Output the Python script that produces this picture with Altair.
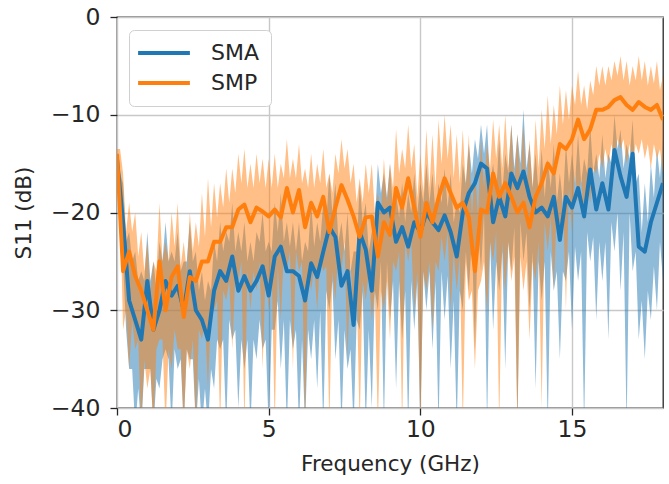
import altair as alt
import pandas as pd

# Frequency sweep (GHz): lines sampled every 0.2 GHz, bands every 0.1 GHz
freq_line = [round(0.2 * i, 1) for i in range(91)]
freq_band = [round(0.1 * i, 1) for i in range(181)]

sma_mean = [-14.5, -21, -29, -31, -33, -27, -32, -30, -27, -28.5,
            -27.5, -30, -26, -30, -31, -33, -28, -26, -27, -24.5,
            -28, -26.5, -28, -27, -25.5, -28.5, -24.5, -23.5, -26, -26,
            -26.5, -29, -25.2, -26.6, -24, -21.5, -22.5, -27.5, -26, -31.5,
            -22, -23.8, -28, -19, -20, -19.5, -23, -21.5, -23.5, -21,
            -22, -20, -21, -21.8, -20.3, -22, -24.5, -20, -18, -17,
            -15, -15.5, -21, -18.4, -20.4, -16, -17.5, -15.8, -18.4, -20,
            -19.5, -20.4, -18.4, -22.8, -18.4, -19.5, -17.5, -20.4, -15.6, -19.7,
            -17, -19.7, -13.6, -16.3, -18.4, -14, -23.5, -24, -21, -19,
            -17]
smp_mean = [-14, -26, -24, -26.5, -28, -30, -32, -25, -30, -26.6,
            -25.5, -30.7, -26.6, -27, -25, -25, -23, -23, -21.5, -21.5,
            -19.7, -19.2, -21, -19.5, -19.9, -20.4, -19.7, -20.5, -17.5, -20,
            -17.7, -21.5, -19, -20.4, -18.4, -22, -19.5, -17.2, -18.7, -20.4,
            -22.5, -20.5, -20.4, -24.5, -21, -22.3, -17.5, -19.5, -16.5, -19.5,
            -22.5, -19, -21, -18.5, -16.5, -18, -19.5, -19, -20.5, -26,
            -19.7, -20, -16, -18.4, -17, -18.4, -20, -19, -21.5, -18.4,
            -17, -15, -16, -13, -13.5, -12.5, -10.5, -12.5, -11.5, -9.5,
            -9.5, -9.2, -8.5, -8.2, -9, -9.5, -8.7, -9.2, -9.5, -9,
            -10.5]

# Band edges at 0.0, 0.2, ... 18.0 GHz
sma_upper_a = [-14, -17, -22, -24, -26, -22, -25, -23, -21, -24,
               -22, -25, -21, -24, -26, -27, -23, -21, -22, -19,
               -22, -21, -23, -22, -20, -23, -19, -18, -21, -21,
               -21, -23, -19, -21, -19, -16, -17, -21, -20, -24,
               -17, -19, -22, -15, -16, -15, -18, -17, -18, -16,
               -17, -15, -16, -17, -15.5, -16, -19, -15, -13, -12.5,
               -11, -11, -15, -12.5, -14, -11, -12, -9.5, -13, -14,
               -13.5, -14.5, -13, -16, -13, -14, -12, -14.5, -11, -14,
               -12, -14, -10, -11.5, -13, -10.5, -16, -17, -15, -13.5,
               -12.5]
# Band edges at 0.1, 0.3, ... 17.9 GHz
sma_upper_b = [-16, -23, -25, -27, -27, -27, -28, -25, -25, -25,
               -26, -25, -25, -28, -29, -28, -25, -24, -23, -24,
               -24, -25, -25, -23, -24, -24, -22, -23, -23.5, -24,
               -25, -24, -23.5, -23, -21, -20, -23, -24, -26, -24,
               -21, -24, -21, -18, -18.5, -20, -20.5, -21, -20, -20,
               -19, -19, -20, -19, -19.5, -21, -20, -17, -16, -14.5,
               -14, -17, -18, -18, -16, -15.5, -15, -15.5, -17.5, -18,
               -18.5, -17.5, -19, -19, -17, -17, -17, -16, -16, -16.5,
               -16.5, -15, -13.5, -15.5, -14.5, -17, -22, -21, -18.5, -16.5]
sma_lower_a = [-15.5, -25, -36, -42, -42, -36, -42, -38, -34, -42,
               -36, -42, -35, -42, -42, -42, -38, -34, -42, -33,
               -40, -36, -42, -35, -34, -42, -32, -36, -42, -34,
               -42, -42, -35, -38, -42, -30, -35, -42, -36, -42,
               -32, -42, -40, -30, -42, -31, -38, -33, -42, -32,
               -42, -30, -34, -42, -31, -36, -42, -30, -28, -34,
               -26, -42, -32, -28, -36, -26, -42, -25, -30, -38,
               -29, -42, -28, -35, -27, -32, -27, -42, -25, -31,
               -27, -33, -24, -28, -42, -26, -33, -35, -31, -30,
               -27]
sma_lower_b = [-19, -32, -36, -38, -36, -36, -37, -35, -35, -34,
               -35, -34, -35, -37, -38, -36, -33, -33, -31, -32,
               -33, -33, -33, -31, -33, -32, -29, -31, -31, -32,
               -33, -32, -31, -30, -28, -27, -31, -32, -34, -31,
               -28, -32, -28, -25, -25, -27, -27, -28, -27, -27,
               -26, -26, -27, -26, -26.5, -29, -28, -24, -22.5, -21,
               -20, -23, -25, -24, -23, -21.5, -21, -22, -24, -25,
               -25, -24, -26, -26, -24, -23.5, -24, -22, -22.5, -23,
               -23, -21, -20, -22, -20, -24, -29, -28, -25.5, -23]

smp_upper_a = [-13.5, -16, -19, -20, -22, -23, -25, -19, -23, -20,
               -19, -23, -20, -21, -18, -16.5, -17, -17, -15.5, -15.5,
               -14, -13.5, -15, -14, -14.5, -14.5, -14, -15, -12.5, -14.5,
               -13, -15.5, -14, -15, -13.5, -16, -14, -12.5, -13.5, -15,
               -16.5, -15, -15, -18, -14.5, -15, -11.5, -13.5, -11, -13,
               -14, -11.5, -12, -10.5, -10, -11, -12, -11.5, -12, -15,
               -12.5, -13, -10.5, -11, -10, -11, -12, -11, -12.5, -10.5,
               -9.5, -8, -9, -7, -7.5, -7, -5.5, -7, -6.5, -5,
               -5, -5, -4.5, -4, -4.5, -5, -4, -4.5, -5, -4.5,
               -6]
smp_upper_b = [-13.5, -22, -22, -24.5, -26, -28, -26, -25, -25, -23.5,
               -25.5, -26, -24, -23.5, -22.5, -21.5, -20.5, -19.5, -19, -18,
               -17, -17.5, -17.5, -17, -17.5, -17.5, -17.5, -16.5, -16.5, -16.5,
               -17, -17.5, -17.5, -17, -17.5, -18, -16, -15.5, -17, -19,
               -19, -18, -20, -20, -19, -17.5, -16, -15.5, -15.5, -18.5,
               -18, -17.5, -17.5, -15, -14.5, -16.5, -17, -17.5, -20.5, -20.5,
               -17.5, -15.5, -14.5, -15.5, -15.5, -17, -17, -17.5, -17.5, -15.5,
               -13.5, -13, -12, -11, -10.5, -9, -9, -9.5, -8, -7,
               -7, -6.5, -6, -6.5, -7, -6.5, -6.5, -7, -6.8, -7.5]
smp_lower_a = [-15, -32, -36, -34, -42, -38, -42, -33, -42, -36,
               -34, -42, -36, -42, -33, -38, -30, -42, -29, -34,
               -27, -42, -30, -28, -36, -30, -42, -31, -26, -36,
               -26, -42, -28, -30, -26, -42, -29, -26, -35, -31,
               -42, -29, -31, -42, -30, -33, -26, -42, -25, -30,
               -42, -28, -32, -26, -25, -30, -28, -42, -29, -36,
               -27, -30, -25, -42, -28, -27, -42, -28, -33, -27,
               -40, -24, -28, -23, -30, -22, -19, -21, -19, -16,
               -15.5, -15, -14.5, -13.5, -15, -15, -14, -14.5, -15.5, -14.5,
               -16]
smp_lower_b = [-19, -30, -31, -33, -35, -36, -34, -33, -34, -32,
               -34, -34, -33, -32, -31, -30, -29, -28, -27, -26.5,
               -25, -26, -26, -25, -26, -25.5, -25.5, -24, -24, -24,
               -25, -25.5, -25.5, -24.5, -25.5, -26, -23.5, -23, -25, -27,
               -27, -26, -28, -28, -27, -25, -24, -23, -23, -26,
               -26, -25, -25, -22.5, -22, -24, -24.5, -25, -28, -28,
               -25, -23, -22, -23, -23, -24.5, -24.5, -25, -25, -23,
               -21, -20.5, -19.5, -18, -17.5, -16, -16.5, -17, -15.5, -14,
               -13.5, -13, -12.5, -12.5, -13, -13, -12.5, -13, -13, -13.5]

series_names = ["SMA", "SMP"]
series_colors = ["#1f77b4", "#ff7f0e"]
x_ticks = [0, 5, 10, 15]
y_ticks = [0, -10, -20, -30, -40]


def interleave(a, b):
    out = []
    for i, v in enumerate(a):
        out.append(v)
        if i < len(b):
            out.append(b[i])
    return out


line_rows = []
for name, m in [("SMA", sma_mean), ("SMP", smp_mean)]:
    for f, v in zip(freq_line, m):
        line_rows.append({"freq": f, "series": name, "s11": v})
line_df = pd.DataFrame(line_rows)

band_rows = []
for name, la, lb, ua, ub in [("SMA", sma_lower_a, sma_lower_b, sma_upper_a, sma_upper_b),
                             ("SMP", smp_lower_a, smp_lower_b, smp_upper_a, smp_upper_b)]:
    lo = interleave(la, lb)
    hi = interleave(ua, ub)
    for f, a, b in zip(freq_band, lo, hi):
        band_rows.append({"freq": f, "series": name, "lo": a, "hi": b})
band_df = pd.DataFrame(band_rows)

cscale = alt.Scale(domain=series_names, range=series_colors)
xenc = alt.X("freq:Q", scale=alt.Scale(domain=[0, 18], nice=False),
             axis=alt.Axis(values=x_ticks, title="Frequency (GHz)", format="d"))
yaxis = alt.Axis(values=y_ticks, title="S11 (dB)",
                 labelExpr="replace(datum.label, '-', '\u2212')")
yscale = alt.Scale(domain=[-40, 0], nice=False)

bands = alt.Chart(band_df).mark_area(opacity=0.5, clip=True).encode(
    x=xenc,
    y=alt.Y("lo:Q", scale=yscale, stack=None, axis=yaxis),
    y2="hi:Q",
    color=alt.Color("series:N", scale=cscale, legend=None),
    detail="series:N",
)

lines = alt.Chart(line_df).mark_line(strokeWidth=4, clip=True,
                                     strokeJoin="round").encode(
    x=xenc,
    y=alt.Y("s11:Q", scale=yscale, axis=yaxis),
    color=alt.Color("series:N", scale=cscale, title=None,
                    legend=alt.Legend(orient="none", legendX=12, legendY=13,
                                      symbolType="M-3.7,0H3.7", symbolSize=196,
                                      symbolStrokeWidth=4, symbolOffset=12,
                                      labelFontSize=22, labelOffset=36,
                                      rowPadding=8, padding=12, cornerRadius=5,
                                      strokeColor="#d0d0d0", fillColor="white",
                                      labelColor="#262626",
                                      labelFont="DejaVu Sans")),
    order="freq:Q",
)

chart = alt.layer(bands, lines).resolve_legend(color="independent").properties(
    width=546, height=391,
    autosize=alt.AutoSizeParams(type="none"),
    padding={"left": 117, "top": 17, "right": 6, "bottom": 76},
).configure_view(
    stroke="#262626", strokeWidth=1.3
).configure_axis(
    labelFont="DejaVu Sans", titleFont="DejaVu Sans",
    labelFontSize=23.5, titleFontSize=21.5,
    labelColor="#262626", titleColor="#262626",
    titleFontWeight="normal",
    gridColor="#c8c8c8", gridWidth=1.4,
    tickColor="#262626", tickSize=7, tickWidth=1.3,
    domain=False,
).configure_axisX(
    labelPadding=2, titlePadding=13
).configure_axisY(
    labelPadding=10, titlePadding=15
)

chart.save("out.html", embed_options={"renderer": "svg", "actions": False})
